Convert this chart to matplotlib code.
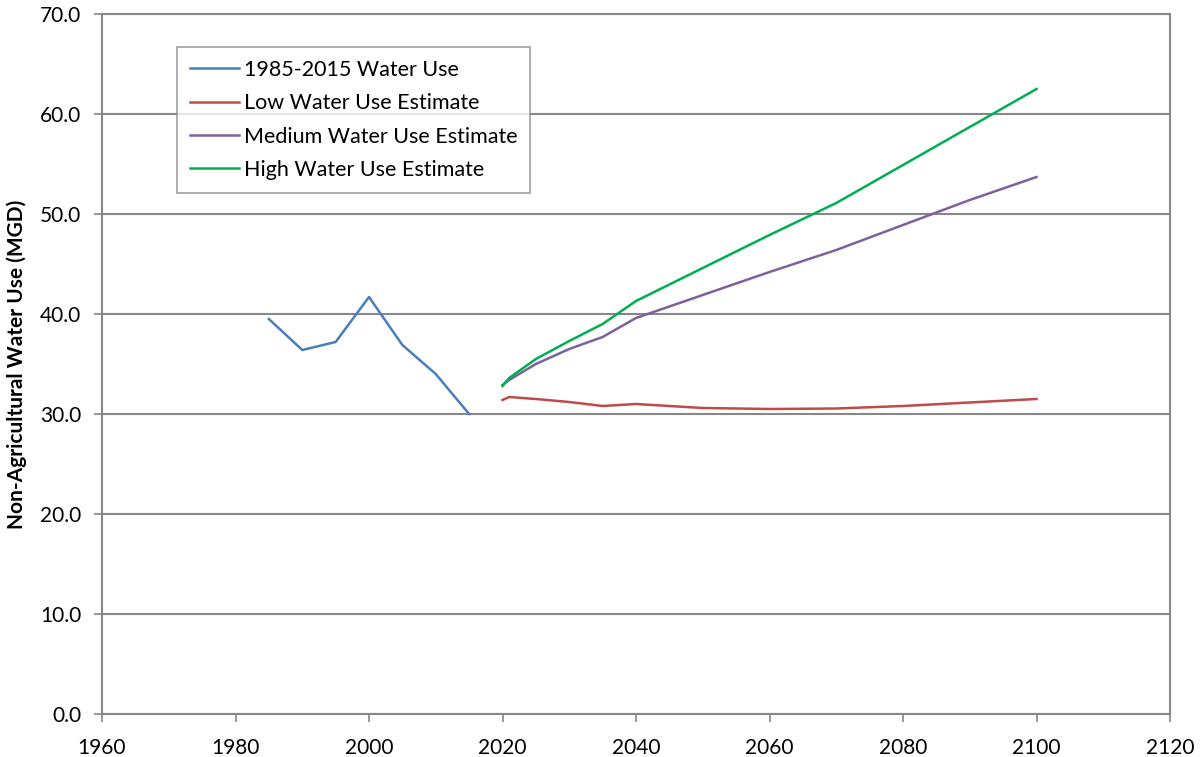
import matplotlib
matplotlib.use("Agg")
import matplotlib.pyplot as plt
from matplotlib.ticker import FormatStrFormatter, MultipleLocator

# Historical non-agricultural water use (MGD)
hist_years = [1985, 1990, 1995, 2000, 2005, 2010, 2015]
hist_use = [39.5, 36.4, 37.2, 41.7, 36.9, 34.0, 30.0]

# Projection years and estimates (MGD)
proj_years = [2020, 2021, 2025, 2030, 2035, 2040, 2050, 2060, 2070, 2080, 2090, 2100]
low_est = [31.4, 31.7, 31.5, 31.2, 30.8, 31.0, 30.6, 30.5, 30.55, 30.8, 31.15, 31.5]
med_est = [32.9, 33.4, 35.0, 36.5, 37.7, 39.6, 41.9, 44.2, 46.4, 48.9, 51.4, 53.7]
high_est = [32.8, 33.6, 35.5, 37.3, 39.0, 41.3, 44.6, 47.9, 51.1, 54.9, 58.7, 62.5]

series_labels = ["1985-2015 Water Use", "Low Water Use Estimate",
                 "Medium Water Use Estimate", "High Water Use Estimate"]
x_ticks = [1960, 1980, 2000, 2020, 2040, 2060, 2080, 2100, 2120]
y_label = "Non-Agricultural Water Use (MGD)"

plt.rcParams["font.family"] = ["Lato", "DejaVu Sans"]

fig = plt.figure(figsize=(12.01, 7.57), dpi=100)
ax = fig.add_axes([102 / 1201, 43 / 757, 1068 / 1201, 700 / 757])

grey = "#878787"
lw = 1.8
ax.plot(hist_years, hist_use, color="#4A7EBB", lw=lw, label=series_labels[0])
ax.plot(proj_years, low_est, color="#BE4B48", lw=lw, label=series_labels[1])
ax.plot(proj_years, med_est, color="#7D60A0", lw=lw, label=series_labels[2])
ax.plot(proj_years, high_est, color="#00B050", lw=lw, label=series_labels[3])

ax.set_xlim(1960, 2120)
ax.set_ylim(0, 70)
ax.set_xticks(x_ticks)
ax.yaxis.set_major_locator(MultipleLocator(10))
ax.yaxis.set_major_formatter(FormatStrFormatter("%.1f"))
ax.grid(axis="y", color=grey, lw=1.5)
ax.set_axisbelow(True)
for s in ax.spines.values():
    s.set_color(grey)
    s.set_linewidth(1.5)
ax.tick_params(axis="both", colors=grey, labelcolor="black", labelsize=15,
               direction="out", length=6, width=1.2)
ax.tick_params(axis="y", pad=9)
ax.tick_params(axis="x", pad=11)
ax.set_ylabel(y_label, fontsize=15, fontweight="bold", labelpad=9)

leg = ax.legend(loc="upper left", bbox_to_anchor=(75 / 1068, 667 / 700),
                borderaxespad=0, fancybox=False, frameon=True,
                edgecolor=grey, fontsize=15.5, handlelength=2.3,
                handletextpad=0.2, labelspacing=0.62, borderpad=0.6)
leg.get_frame().set_linewidth(1.2)

fig.savefig("out.png", dpi=100)
